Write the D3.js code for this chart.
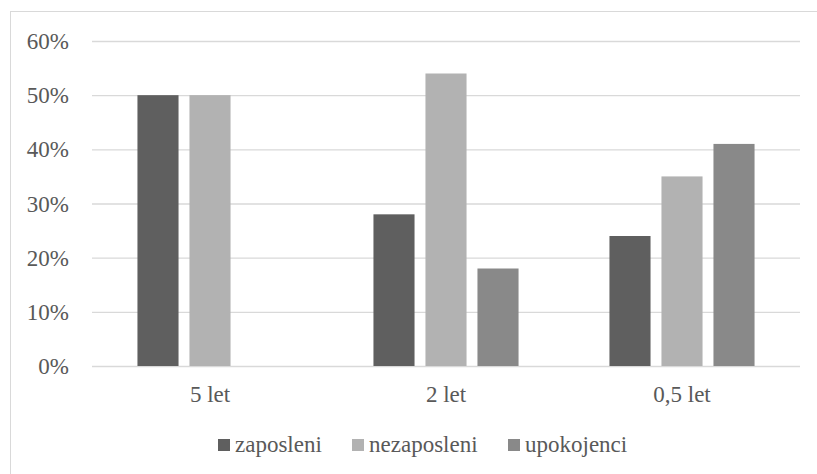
<!DOCTYPE html>
<html><head><meta charset="utf-8">
<script src="https://cdn.jsdelivr.net/npm/d3@7"></script>
<style>body{margin:0;background:#fff}svg{display:block}</style>
</head><body>
<svg id="c" width="817" height="474"></svg>
<script>
const categories = ["5 let", "2 let", "0,5 let"];
const seriesNames = ["zaposleni", "nezaposleni", "upokojenci"];
const zaposleni = [50, 28, 24];
const nezaposleni = [50, 54, 35];
const upokojenci = [0, 18, 41];
const yTicks = [0, 10, 20, 30, 40, 50, 60];
const colors = ["#5f5f5f", "#b2b2b2", "#898989"];

const values = [zaposleni, nezaposleni, upokojenci];
const svg = d3.select("#c");
const txt = "#595959";
const fam = "Liberation Serif";
const fs = 23;

svg.append("rect").attr("x", 10.5).attr("y", 11.5).attr("width", 830).attr("height", 480)
  .attr("fill", "#fff").attr("stroke", "#d9d9d9").attr("stroke-width", 1);

const pLeft = 92, pRight = 800, pTop = 41, pBottom = 366;
const x = d3.scaleBand().domain(categories).range([pLeft, pRight]);
const y = d3.scaleLinear().domain([0, 60]).range([pBottom, pTop]);
const xs = d3.scaleBand().domain(seriesNames).range([0, x.bandwidth()]).paddingInner(0.21).paddingOuter(0.874);

const gy = svg.append("g").attr("transform", `translate(${pLeft},0)`)
  .call(d3.axisLeft(y).tickValues(yTicks).tickSize(-(pRight - pLeft)).tickFormat(d => d + "%").tickPadding(23));
gy.attr("font-family", fam).attr("font-size", fs);
gy.select(".domain").remove();
gy.selectAll(".tick line").attr("stroke", "#d9d9d9").attr("stroke-width", 1.3);
gy.selectAll(".tick text").attr("fill", txt).attr("dy", "0.33em");

const bars = svg.append("g");
seriesNames.forEach((s, si) => {
  bars.selectAll(null).data(categories).enter().append("rect")
    .attr("x", c => x(c) + xs(s))
    .attr("width", xs.bandwidth())
    .attr("y", (c, i) => y(values[si][i]))
    .attr("height", (c, i) => pBottom - y(values[si][i]))
    .attr("fill", colors[si]);
});

const gx = svg.append("g").attr("transform", `translate(0,${pBottom})`)
  .call(d3.axisBottom(x).tickSize(0).tickPadding(20));
gx.attr("font-family", fam).attr("font-size", fs);
gx.select(".domain").remove();
gx.selectAll(".tick text").attr("fill", txt);

// legend
const legX = [218, 352, 508];
const lg = svg.append("g").attr("font-family", fam).attr("font-size", fs);
seriesNames.forEach((s, i) => {
  lg.append("rect").attr("x", legX[i]).attr("y", 439).attr("width", 12).attr("height", 12).attr("fill", colors[i]);
  lg.append("text").attr("x", legX[i] + 17).attr("y", 452).text(s).attr("fill", txt);
});
</script>
</body></html>
